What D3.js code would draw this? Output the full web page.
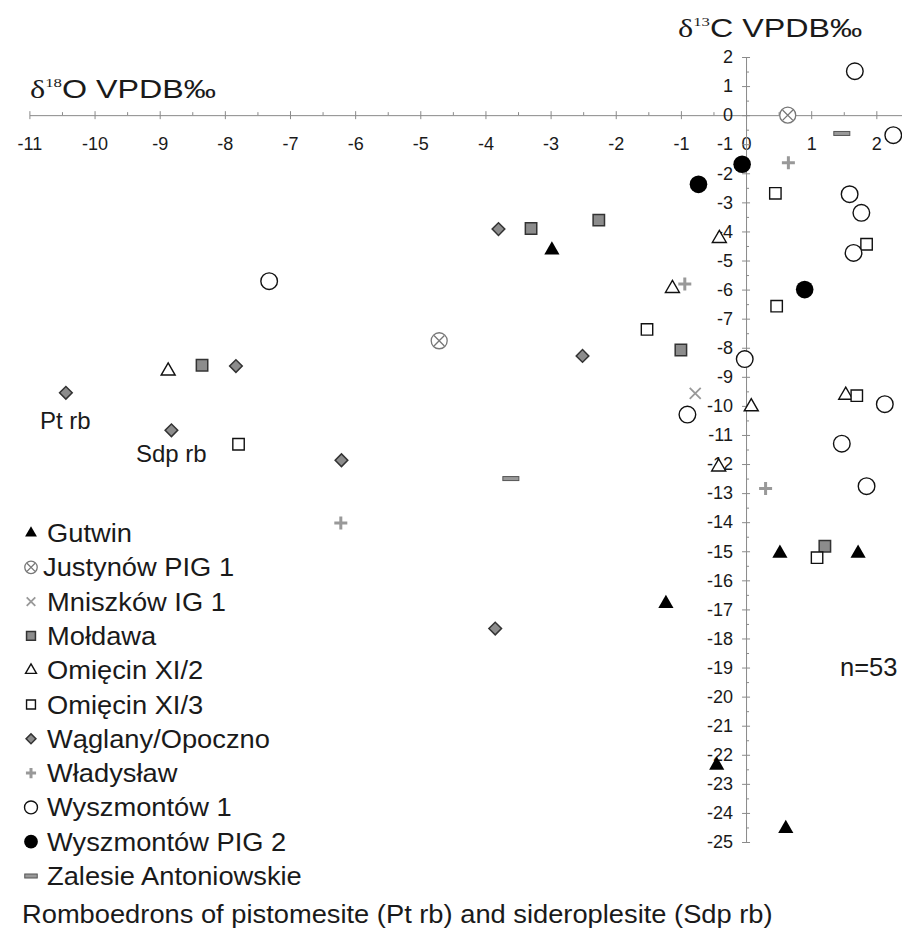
<!DOCTYPE html>
<html>
<head>
<meta charset="utf-8">
<script src="https://cdn.jsdelivr.net/npm/d3@7"></script>
<style>
  body { margin: 0; background: #fff; }
  svg { font-family: "Liberation Sans", Arial, sans-serif; }
</style>
</head>
<body>
<div id="vis"></div>
<script>
// frame size
const FRAME_WIDTH = 902;
const FRAME_HEIGHT = 929;

// data: [d18O, d13C]
const gutwin = [[-2.98, -4.64], [0.52, -15.07], [1.72, -15.07], [-1.23, -16.8], [-0.45, -22.36], [0.61, -24.54]];
const justynow = [[-4.71, -7.76], [0.64, 0.0]];
const mniszkow = [[-0.78, -9.57]];
const moldawa = [[-3.30, -3.9], [-2.26, -3.61], [-8.35, -8.6], [-1.0, -8.08], [1.21, -14.83]];
const omiecin2 = [[-8.87, -8.8], [-0.41, -4.24], [-1.13, -5.96], [0.08, -10.03], [1.53, -9.63], [-0.42, -12.1]];
const omiecin3 = [[-7.79, -11.32], [0.45, -2.69], [1.85, -4.44], [0.47, -6.57], [-1.52, -7.37], [1.70, -9.65], [1.09, -15.22]];
const waglany = [[-10.44, -9.55], [-7.83, -8.63], [-8.82, -10.84], [-6.21, -11.87], [-3.80, -3.92], [-2.51, -8.28], [-3.85, -17.66]];
const wladyslaw = [[0.65, -1.64], [-0.94, -5.81], [0.30, -12.84], [-6.22, -14.03]];
const wyszmontow1 = [[1.67, 1.51], [2.26, -0.69], [1.59, -2.72], [1.77, -3.36], [1.65, -4.74], [-0.02, -8.39],
                     [-0.90, -10.3], [2.13, -9.94], [1.47, -11.3], [1.85, -12.76], [-7.32, -5.71]];
const wyszmontow2 = [[-0.06, -1.69], [-0.73, -2.38], [0.90, -6.0]];
const zalesie = [[1.47, -0.63], [-3.61, -12.5]];

// legend labels, in order
const seriesNames = ["Gutwin", "Justynów PIG 1", "Mniszków IG 1", "Mołdawa", "Omięcin XI/2", "Omięcin XI/3",
                     "Wąglany/Opoczno", "Władysław", "Wyszmontów 1", "Wyszmontów PIG 2", "Zalesie Antoniowskie"];
const seriesData = [gutwin, justynow, mniszkow, moldawa, omiecin2, omiecin3, waglany, wladyslaw, wyszmontow1, wyszmontow2, zalesie];
const seriesKind = ["tri", "otimes", "times", "gsquare", "otri", "osquare", "diamond", "plus", "ocircle", "circle", "dash"];

// tick values
const xTicks = d3.range(-11, 3, 1);
const xMinor = d3.range(-10.5, 2.5, 1);
const yTicks = d3.range(-25, 3, 1);
const yMinor = d3.range(-24.5, 2, 1);

const X_SCALE = d3.scaleLinear().domain([-11, 2.4]).range([29.4, 902.4]);
const Y_SCALE = d3.scaleLinear().domain([2, -25]).range([57, 842]);

const svg = d3.select("#vis").append("svg")
  .attr("width", FRAME_WIDTH)
  .attr("height", FRAME_HEIGHT);

const AXIS_COLOR = "#8a8a8a";
const TEXT_COLOR = "#1a1a1a";

// x axis (major ticks both sides, labels below)
svg.append("g")
  .attr("transform", "translate(0," + Y_SCALE(0) + ")")
  .call(d3.axisBottom(X_SCALE).tickValues(xTicks).tickSizeInner(4).tickSizeOuter(0).tickPadding(18)
        .tickFormat(d3.format("d")));
svg.append("g")
  .attr("transform", "translate(0," + Y_SCALE(0) + ")")
  .call(d3.axisTop(X_SCALE).tickValues(xTicks).tickSize(4).tickFormat(""))
  .call(g => g.select(".domain").remove());
svg.append("g")
  .attr("transform", "translate(0," + Y_SCALE(0) + ")")
  .call(d3.axisTop(X_SCALE).tickValues(xMinor).tickSize(3).tickFormat(""))
  .call(g => g.select(".domain").remove());

// y axis
svg.append("g")
  .attr("transform", "translate(" + X_SCALE(0) + ",0)")
  .call(d3.axisLeft(Y_SCALE).tickValues(yTicks).tickSizeInner(4).tickSizeOuter(0).tickPadding(9)
        .tickFormat(d3.format("d")));
svg.append("g")
  .attr("transform", "translate(" + X_SCALE(0) + ",0)")
  .call(d3.axisRight(Y_SCALE).tickValues(yTicks).tickSize(4).tickFormat(""))
  .call(g => g.select(".domain").remove());
svg.append("g")
  .attr("transform", "translate(" + X_SCALE(0) + ",0)")
  .call(d3.axisRight(Y_SCALE).tickValues(yMinor).tickSize(3).tickFormat(""))
  .call(g => g.select(".domain").remove());

svg.selectAll(".domain, .tick line").attr("stroke", AXIS_COLOR).attr("stroke-width", 1);
svg.selectAll(".tick text")
  .attr("fill", TEXT_COLOR)
  .attr("font-size", "18px")
  .attr("font-family", "'Liberation Sans', Arial, sans-serif")
  .text(function () { return this.textContent.replace("−", "-"); });

// draws one marker of a given kind, s = scale factor
function drawMarker(g, kind, s) {
  const sym = (type, size) => d3.symbol().type(type).size(size * s * s)();
  const plusPath = (r) => "M" + (-r) + ",0H" + r + "M0," + (-r) + "V" + r;
  const timesPath = (r) => "M" + (-r) + "," + (-r) + "L" + r + "," + r + "M" + (-r) + "," + r + "L" + r + "," + (-r);
  if (kind === "tri") {
    g.append("path").attr("d", sym(d3.symbolTriangle, 100)).attr("fill", "#000");
  } else if (kind === "otri") {
    g.append("path").attr("d", sym(d3.symbolTriangle, 85)).attr("fill", "#fff").attr("stroke", "#111").attr("stroke-width", 1.4);
  } else if (kind === "gsquare") {
    g.append("path").attr("d", sym(d3.symbolSquare, 130)).attr("fill", "#8c8c8c").attr("stroke", "#333").attr("stroke-width", 1.5);
  } else if (kind === "osquare") {
    g.append("path").attr("d", sym(d3.symbolSquare, 130)).attr("fill", "#fff").attr("stroke", "#111").attr("stroke-width", 1.4);
  } else if (kind === "diamond") {
    g.append("path").attr("d", sym(d3.symbolSquare, 80)).attr("transform", "rotate(45)")
      .attr("fill", "#8c8c8c").attr("stroke", "#333").attr("stroke-width", 1.5);
  } else if (kind === "ocircle") {
    g.append("circle").attr("r", 8.3 * s).attr("fill", "#fff").attr("stroke", "#111").attr("stroke-width", 1.4);
  } else if (kind === "circle") {
    g.append("circle").attr("r", 8.8 * s).attr("fill", "#000");
  } else if (kind === "otimes") {
    g.append("circle").attr("r", 8 * s).attr("fill", "#fff").attr("stroke", "#777").attr("stroke-width", 1.3);
    g.append("path").attr("d", timesPath(5.2 * s)).attr("stroke", "#777").attr("stroke-width", 1.3);
  } else if (kind === "times") {
    g.append("path").attr("d", timesPath(5.5 * s)).attr("stroke", "#999").attr("stroke-width", 1.8);
  } else if (kind === "plus") {
    g.append("path").attr("d", plusPath(6.5 * s)).attr("stroke", "#999").attr("stroke-width", 3);
  } else if (kind === "dash") {
    g.append("rect").attr("x", -8 * s).attr("y", -2).attr("width", 16 * s).attr("height", 4)
      .attr("fill", "#999").attr("stroke", "#555").attr("stroke-width", 1);
  }
}

// plots every series
seriesData.forEach((data, i) => {
  svg.append("g").attr("class", "series")
    .selectAll("g")
    .data(data)
    .enter()
    .append("g")
      .attr("transform", (d) => "translate(" + X_SCALE(d[0]) + "," + Y_SCALE(d[1]) + ")")
      .each(function () { drawMarker(d3.select(this), seriesKind[i], 1); });
});

// text helper, sx stretches the text horizontally like the original
function addText(x, y, size, sx, str) {
  return svg.append("text")
    .attr("transform", "translate(" + x + "," + y + ") scale(" + sx + ",1)")
    .attr("font-size", size + "px")
    .attr("fill", TEXT_COLOR)
    .text(str);
}

// axis titles
const t1 = addText(30, 98, 25, 1.29, null);
t1.append("tspan").attr("font-family", "'Liberation Serif', serif").text("δ");
t1.append("tspan").attr("font-family", "'Liberation Serif', serif").attr("font-size", "13px").attr("dy", -11).text("18");
t1.append("tspan").attr("dy", 11).text("O VPDB‰");

const t2 = addText(678, 37, 25, 1.29, null);
t2.append("tspan").attr("font-family", "'Liberation Serif', serif").text("δ");
t2.append("tspan").attr("font-family", "'Liberation Serif', serif").attr("font-size", "13px").attr("dy", -11).text("13");
t2.append("tspan").attr("dy", 11).text("C VPDB‰");

// annotations
addText(40, 429, 24, 1, "Pt rb");
addText(136, 462, 24, 1, "Sdp rb");
addText(840, 676, 25.5, 1, "n=53");

// legend
const LEGEND_TOP = 533;
const LEGEND_STEP = 34.3;
seriesNames.forEach((name, i) => {
  const y = LEGEND_TOP + i * LEGEND_STEP;
  drawMarker(svg.append("g").attr("transform", "translate(31," + y + ")"), seriesKind[i], 0.78);
  addText(i === 1 ? 43 : 47, y + 9, 26, 1.05, name);
});
addText(22, LEGEND_TOP + 11 * LEGEND_STEP + 13, 26, 1.05,
        "Romboedrons of pistomesite (Pt rb) and sideroplesite (Sdp rb)");
</script>
</body>
</html>
